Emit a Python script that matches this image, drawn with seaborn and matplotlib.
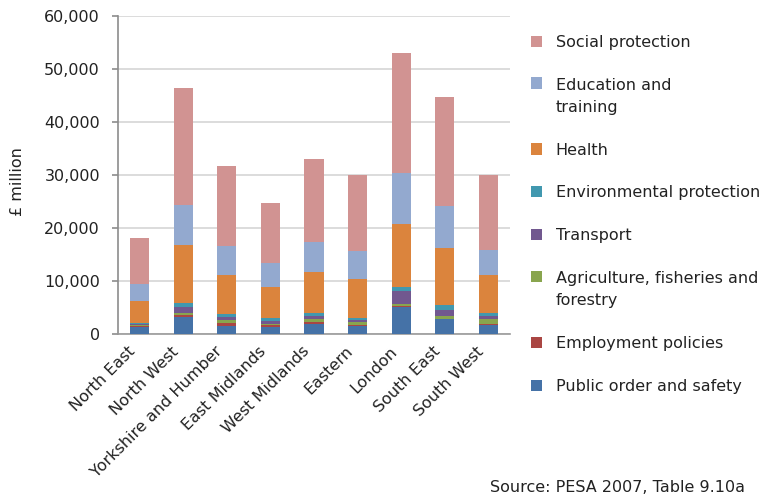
import matplotlib
matplotlib.use("Agg")
import matplotlib.pyplot as plt
import seaborn as sns
import numpy as np
from matplotlib.ticker import FuncFormatter
from matplotlib.patches import Rectangle, Patch
from matplotlib.legend_handler import HandlerPatch
from matplotlib.transforms import ScaledTranslation

regions = ["North East", "North West", "Yorkshire and Humber", "East Midlands",
           "West Midlands", "Eastern", "London", "South East", "South West"]

public_order = [1310, 3250, 1560, 1310, 1940, 1560, 5100, 2750, 1690]
employment = [150, 310, 500, 375, 375, 190, 250, 150, 125]
agriculture = [310, 375, 625, 250, 500, 560, 310, 500, 1000]
transport = [190, 1125, 500, 500, 625, 375, 2380, 1125, 560]
environmental = [190, 750, 625, 500, 500, 375, 750, 875, 560]
health = [4070, 11070, 7250, 5880, 7690, 7250, 12000, 10760, 7130]
education = [3190, 7500, 5630, 4500, 5750, 5440, 9570, 8070, 4690]
social = [8630, 22000, 15000, 11380, 15630, 14260, 22600, 20450, 14260]

series_names = ["Public order and safety", "Employment policies",
                "Agriculture, fisheries and\nforestry", "Transport",
                "Environmental protection", "Health",
                "Education and\ntraining", "Social protection"]
series_values = [public_order, employment, agriculture, transport,
                 environmental, health, education, social]
colors = ["#4572A7", "#AA4643", "#89A54E", "#71588F",
          "#4198AF", "#DB843D", "#93A9CF", "#D19392"]

y_ticks = [0, 10000, 20000, 30000, 40000, 50000, 60000]
source_text = "Source: PESA 2007, Table 9.10a"
y_label = "£ million"

plt.rcParams['font.family'] = ['DejaVu Sans']
FS = 11.5

fig = plt.figure(figsize=(7.6, 4.95), dpi=100)
ax = fig.add_axes([118/760, 1-334/495, (510-118)/760, (334-16)/495])

cum = np.cumsum(np.array(series_values, dtype=float), axis=0)
# draw from the top layer down so lower segments overlay
for i in range(len(series_values) - 1, -1, -1):
    sns.barplot(x=regions, y=cum[i], color=colors[i], width=0.44,
                saturation=1, errorbar=None, ax=ax, zorder=3)

ax.set_ylim(0, 60000)
ax.set_xlim(-0.5, len(regions) - 0.5)
ax.set_yticks(y_ticks)
ax.yaxis.set_major_formatter(FuncFormatter(lambda v, p: f"{int(v):,}"))
ax.yaxis.grid(True, color="#D2D2D2", linewidth=1.1, zorder=0)
ax.set_axisbelow(True)
for s in ["top", "right"]:
    ax.spines[s].set_visible(False)
ax.spines["left"].set_color("#8C8C8C")
ax.spines["left"].set_linewidth(1.2)
ax.spines["bottom"].set_color("#9A9A9A")
ax.spines["bottom"].set_linewidth(1.2)
ax.tick_params(axis="y", length=4, width=1.2, color="#8C8C8C", pad=9,
               labelsize=FS, labelcolor="#222222")
ax.tick_params(axis="x", length=0, pad=7, labelsize=FS, labelcolor="#222222")
ax.set_xticks(range(len(regions)))
ax.set_xticklabels(regions, rotation=45, ha="right", va="top",
                   rotation_mode="anchor")
off = ScaledTranslation(-12/100, 0, fig.dpi_scale_trans)
for lab in ax.get_xticklabels():
    lab.set_transform(lab.get_transform() + off)
ax.set_xlabel("")
ax.set_ylabel("")

fig.text(17/760, 1-182/495, y_label, rotation=90, ha="center", va="center",
         fontsize=FS, color="#222222")
fig.text(745/760, 1-487/495, source_text, ha="right", va="center",
         fontsize=FS, color="#222222")


def shifted_square(shift):
    def f(legend, orig_handle, xdescent, ydescent, width, height, fontsize):
        return Rectangle((-xdescent, -ydescent + shift * fontsize), width, height)
    return f


handles = []
labels = []
hmap = {}
for name, c in zip(reversed(series_names), reversed(colors)):
    h = Patch(facecolor=c, edgecolor="none")
    handles.append(h)
    labels.append(name)
    if "\n" in name:
        hmap[h] = HandlerPatch(patch_func=shifted_square(0.85))
    else:
        hmap[h] = HandlerPatch()

leg = fig.legend(handles, labels, loc="upper left",
                 bbox_to_anchor=(531/760, 1-35/495), bbox_transform=fig.transFigure,
                 frameon=False, borderpad=0, borderaxespad=0,
                 handlelength=0.7, handleheight=0.7, handletextpad=0.85,
                 labelspacing=1.75, fontsize=FS, handler_map=hmap)
for t in leg.get_texts():
    t.set_color("#222222")
    t.set_linespacing(1.55)

fig.savefig("out.png", dpi=100)
